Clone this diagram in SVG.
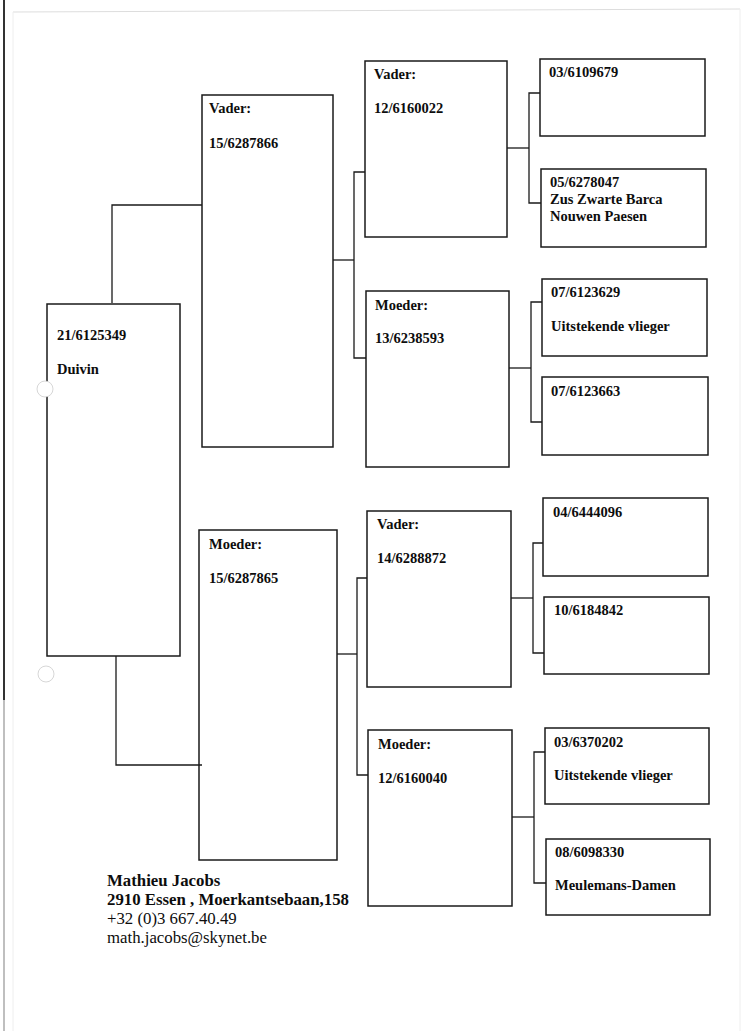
<svg xmlns="http://www.w3.org/2000/svg" width="750" height="1031" viewBox="0 0 750 1031">
<style>
.box{fill:none;stroke:#1a1a1a;stroke-width:1.5}
.c{fill:none;stroke:#1a1a1a;stroke-width:1.3}
.t{font-family:"Liberation Serif","Times New Roman",serif;font-weight:bold;font-size:14.5px;fill:#0d0d0d}
.f{font-family:"Liberation Serif","Times New Roman",serif;font-size:16.8px;fill:#0d0d0d}
.fb{font-weight:bold}
</style>
<rect width="750" height="1031" fill="#ffffff"/>
<g id="page-edges">
<line x1="4" y1="0" x2="4" y2="700" stroke="#333" stroke-width="2"/>
<line x1="4" y1="700" x2="4" y2="1031" stroke="#aaa" stroke-width="1.5"/>
<line x1="13" y1="12" x2="740" y2="9" stroke="#ddd" stroke-width="1"/>
<line x1="13" y1="12" x2="13" y2="1031" stroke="#eee" stroke-width="1"/>
<line x1="740" y1="9" x2="740" y2="1031" stroke="#eee" stroke-width="1"/>
</g>
<g id="connectors">
<polyline class="c" points="112,303 112,205 202,205"/>
<polyline class="c" points="116,656 116,765 202,765"/>
<line class="c" x1="333" y1="260" x2="354" y2="260"/>
<polyline class="c" points="365,172 354,172 354,358 366,358"/>
<line class="c" x1="337" y1="654" x2="357" y2="654"/>
<polyline class="c" points="367,578 357,578 357,775 368,775"/>
<line class="c" x1="507" y1="148" x2="529" y2="148"/>
<polyline class="c" points="540,93 529,93 529,203 541,203"/>
<line class="c" x1="509" y1="368" x2="531" y2="368"/>
<polyline class="c" points="542,302 531,302 531,422 542,422"/>
<line class="c" x1="511" y1="598" x2="533" y2="598"/>
<polyline class="c" points="543,543 533,543 533,653 544,653"/>
<line class="c" x1="512" y1="817" x2="534" y2="817"/>
<polyline class="c" points="545,752 534,752 534,883 546,883"/>
</g>
<g id="root">
<rect class="box" x="47" y="304" width="133" height="352"/>
<text class="t" x="57" y="340">21/6125349</text>
<text class="t" x="57" y="374">Duivin</text>
</g>
<g id="sire">
<rect class="box" x="202" y="95" width="131" height="352"/>
<text class="t" x="209" y="113">Vader:</text>
<text class="t" x="209" y="148">15/6287866</text>
</g>
<g id="dam">
<rect class="box" x="199" y="530" width="138" height="330"/>
<text class="t" x="209" y="549">Moeder:</text>
<text class="t" x="209" y="583">15/6287865</text>
</g>
<g id="sire-sire">
<rect class="box" x="365" y="61" width="142" height="176"/>
<text class="t" x="374" y="79">Vader:</text>
<text class="t" x="374" y="113">12/6160022</text>
</g>
<g id="sire-dam">
<rect class="box" x="366" y="291" width="143" height="176"/>
<text class="t" x="375" y="310">Moeder:</text>
<text class="t" x="375" y="343">13/6238593</text>
</g>
<g id="dam-sire">
<rect class="box" x="367" y="511" width="144" height="176"/>
<text class="t" x="377" y="529">Vader:</text>
<text class="t" x="377" y="563">14/6288872</text>
</g>
<g id="dam-dam">
<rect class="box" x="368" y="730" width="144" height="176"/>
<text class="t" x="378" y="749">Moeder:</text>
<text class="t" x="378" y="783">12/6160040</text>
</g>
<g id="g4-1">
<rect class="box" x="540" y="59" width="165" height="77"/>
<text class="t" x="549" y="77">03/6109679</text>
</g>
<g id="g4-2">
<rect class="box" x="541" y="169" width="165" height="78"/>
<text class="t" x="550" y="187">05/6278047</text>
<text class="t" x="550" y="204">Zus Zwarte Barca</text>
<text class="t" x="550" y="221">Nouwen Paesen</text>
</g>
<g id="g4-3">
<rect class="box" x="542" y="279" width="165" height="77"/>
<text class="t" x="551" y="297">07/6123629</text>
<text class="t" x="551" y="331">Uitstekende vlieger</text>
</g>
<g id="g4-4">
<rect class="box" x="542" y="377" width="166" height="78"/>
<text class="t" x="551" y="396">07/6123663</text>
</g>
<g id="g4-5">
<rect class="box" x="543" y="498" width="165" height="78"/>
<text class="t" x="553" y="517">04/6444096</text>
</g>
<g id="g4-6">
<rect class="box" x="544" y="597" width="165" height="77"/>
<text class="t" x="554" y="615">10/6184842</text>
</g>
<g id="g4-7">
<rect class="box" x="545" y="728" width="164" height="76"/>
<text class="t" x="554" y="747">03/6370202</text>
<text class="t" x="554" y="780">Uitstekende vlieger</text>
</g>
<g id="g4-8">
<rect class="box" x="546" y="839" width="164" height="76"/>
<text class="t" x="555" y="857">08/6098330</text>
<text class="t" x="555" y="890">Meulemans-Damen</text>
</g>
<g id="holes">
<circle cx="45" cy="389" r="8" fill="#fff" stroke="#ccc" stroke-width="0.8"/>
<circle cx="46" cy="674" r="8" fill="#fff" stroke="#ccc" stroke-width="0.8"/>
</g>
<g id="footer">
<text class="f fb" x="107" y="886">Mathieu Jacobs</text>
<text class="f fb" x="107" y="905">2910 Essen , Moerkantsebaan,158</text>
<text class="f" x="107" y="924">+32 (0)3 667.40.49</text>
<text class="f" x="107" y="943">math.jacobs@skynet.be</text>
</g>
</svg>
